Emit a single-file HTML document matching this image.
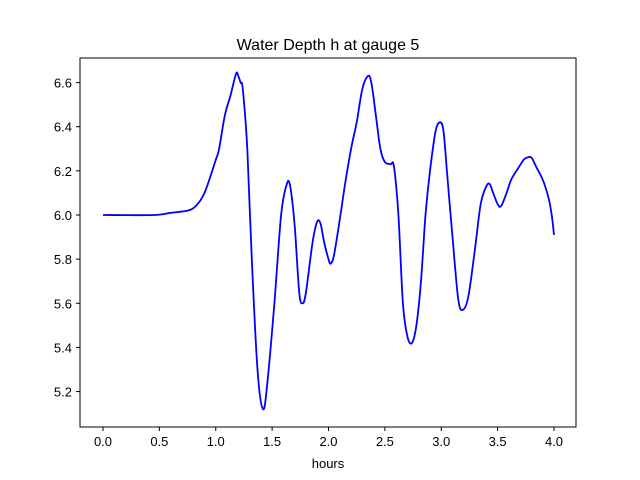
<!DOCTYPE html>
<html><head><meta charset="utf-8">
<style>
body{margin:0;background:#fff;}
svg{display:block;font-family:"Liberation Sans","DejaVu Sans",sans-serif;}
</style></head>
<body>
<svg id="chart" width="640" height="480" viewBox="0 0 640 480" xmlns="http://www.w3.org/2000/svg">
<rect width="640" height="480" fill="#fff"/>
<text x="328" y="50" text-anchor="middle" font-size="16">Water Depth h at gauge 5</text>
<g id="xticks"></g>
<g id="yticks"></g>
<path id="line" fill="none" stroke="#0000ff" stroke-width="1.8" stroke-linejoin="round"/>
<rect x="80" y="58" width="496" height="369" fill="none" stroke="#000" stroke-width="1"/>
<text x="328" y="468" text-anchor="middle" font-size="13">hours</text>
</svg>
<script>
const hours=[0,0.45,0.6,0.75,0.82,0.9,1.0,1.03,1.08,1.13,1.18,1.2,1.22,1.24,1.28,1.32,1.37,1.42,1.46,1.52,1.58,1.63,1.66,1.7,1.74,1.77,1.8,1.86,1.9,1.93,1.96,2.0,2.02,2.05,2.1,2.15,2.2,2.25,2.3,2.35,2.38,2.42,2.46,2.5,2.55,2.58,2.62,2.66,2.7,2.74,2.78,2.82,2.86,2.9,2.95,2.99,3.02,3.05,3.1,3.15,3.19,3.24,3.3,3.35,3.4,3.43,3.46,3.5,3.53,3.58,3.62,3.68,3.73,3.76,3.8,3.84,3.9,3.95,3.98,4.0];
const depth=[6.0,6.0,6.01,6.02,6.04,6.1,6.25,6.3,6.45,6.54,6.64,6.63,6.6,6.57,6.3,5.8,5.3,5.12,5.25,5.6,6.0,6.14,6.13,5.95,5.65,5.6,5.65,5.88,5.97,5.96,5.88,5.8,5.78,5.82,5.98,6.15,6.3,6.42,6.57,6.63,6.6,6.45,6.3,6.24,6.23,6.22,6.0,5.6,5.45,5.42,5.5,5.7,6.0,6.2,6.38,6.42,6.38,6.2,5.9,5.62,5.57,5.63,5.85,6.05,6.13,6.14,6.1,6.05,6.04,6.1,6.16,6.21,6.25,6.26,6.26,6.22,6.16,6.08,6.0,5.91];
const xTickVals=[0,0.5,1,1.5,2,2.5,3,3.5,4];
const yTickVals=[5.2,5.4,5.6,5.8,6.0,6.2,6.4,6.6];
const X=v=>103+v*112.75;
const Y=v=>215-(v-6.0)*220.7;
const NS="http://www.w3.org/2000/svg";
const xg=document.getElementById('xticks'),yg=document.getElementById('yticks');
xTickVals.forEach(v=>{
  const l=document.createElementNS(NS,'line');
  
  
  l.setAttribute('x1',X(v));l.setAttribute('x2',X(v));l.setAttribute('y1',427);l.setAttribute('y2',431);l.setAttribute('stroke','#000');
  xg.appendChild(l);
  const t=document.createElementNS(NS,'text');
  
  
  t.setAttribute('x',X(v));t.setAttribute('y',446);t.setAttribute('text-anchor','middle');t.setAttribute('font-size','13');
  t.textContent=v.toFixed(1);xg.appendChild(t);
});
yTickVals.forEach(v=>{
  const l=document.createElementNS(NS,'line');
  
  
  l.setAttribute('x1',76);l.setAttribute('x2',80);l.setAttribute('y1',Y(v));l.setAttribute('y2',Y(v));l.setAttribute('stroke','#000');
  yg.appendChild(l);
  const t=document.createElementNS(NS,'text');
  
  
  t.setAttribute('x',72);t.setAttribute('y',Y(v)+5);t.setAttribute('text-anchor','end');t.setAttribute('font-size','13');
  t.textContent=v.toFixed(1);yg.appendChild(t);
});
const pts=hours.map((h,i)=>[X(h),Y(depth[i])]);
let d='M'+pts[0][0].toFixed(1)+' '+pts[0][1].toFixed(1);
for(let i=0;i<pts.length-1;i++){
  const p0=pts[Math.max(0,i-1)],p1=pts[i],p2=pts[i+1],p3=pts[Math.min(pts.length-1,i+2)];
  const c1=[p1[0]+(p2[0]-p0[0])/6,p1[1]+(p2[1]-p0[1])/6];
  const c2=[p2[0]-(p3[0]-p1[0])/6,p2[1]-(p3[1]-p1[1])/6];
  d+=' C'+c1[0].toFixed(1)+' '+c1[1].toFixed(1)+' '+c2[0].toFixed(1)+' '+c2[1].toFixed(1)+' '+p2[0].toFixed(1)+' '+p2[1].toFixed(1);
}
document.getElementById('line').setAttribute('d',d);
</script>
</body></html>
